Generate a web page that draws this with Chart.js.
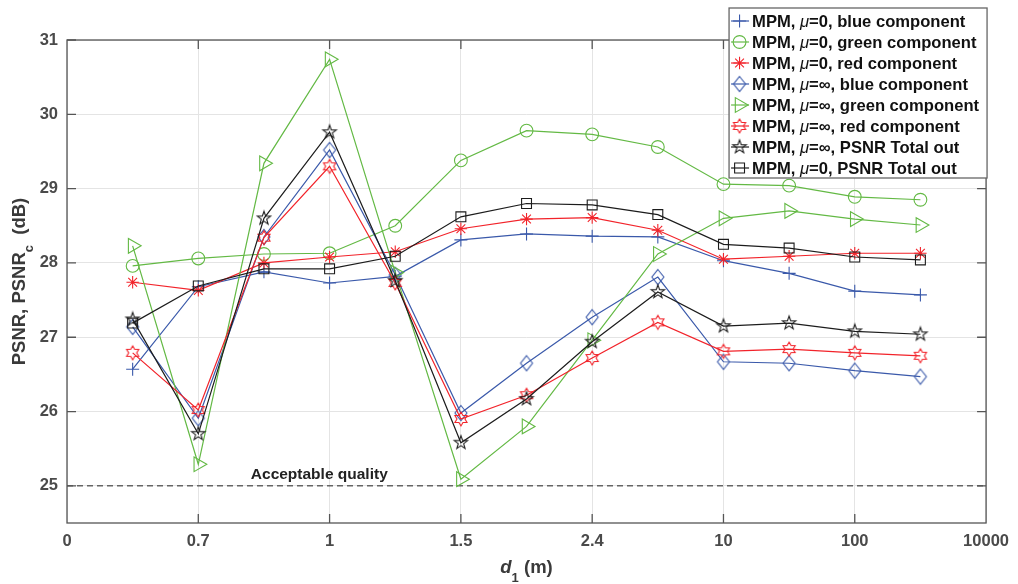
<!DOCTYPE html>
<html>
<head>
<meta charset="utf-8">
<script src="https://cdn.jsdelivr.net/npm/chart.js@4.4.0/dist/chart.umd.min.js"></script>
<style>
html,body{margin:0;padding:0;background:#fff;}
#wrap{width:1018px;height:584px;position:relative;}
</style>
</head>
<body>
<div id="wrap"><canvas id="c"></canvas></div>
<script>
// x axis: evenly spaced d1 values, measurements sit halfway between ticks too
const X_TICK_LABELS = ['0','0.7','1','1.5','2.4','10','100','10000'];
const X_POS = [0.5,1,1.5,2,2.5,3,3.5,4,4.5,5,5.5,6,6.5];
const Y_TICKS = [25,26,27,28,29,30,31];
const ACCEPTABLE = 25;

const blueMu0  = [26.57,27.68,27.88,27.73,27.82,28.31,28.39,28.36,28.35,28.03,27.86,27.62,27.57];
const greenMu0 = [27.96,28.06,28.12,28.13,28.50,29.38,29.78,29.73,29.56,29.06,29.04,28.89,28.85];
const redMu0   = [27.74,27.63,28.00,28.08,28.15,28.46,28.59,28.61,28.44,28.05,28.09,28.13,28.13];
const blueInf  = [27.14,25.91,28.35,29.52,27.84,25.98,26.65,27.27,27.81,26.67,26.65,26.55,26.47];
const greenInf = [28.23,25.29,29.34,30.74,27.87,25.09,25.80,26.96,28.12,28.60,28.70,28.59,28.51];
const redInf   = [26.79,26.02,28.34,29.30,27.73,25.90,26.22,26.72,27.20,26.81,26.84,26.79,26.75];
const totalInf = [27.24,25.70,28.60,29.76,27.76,25.58,26.17,26.94,27.61,27.15,27.19,27.08,27.04];
const totalMu0 = [27.19,27.69,27.92,27.92,28.09,28.62,28.80,28.78,28.65,28.25,28.20,28.08,28.04];

const LABELS = [
  'MPM, μ=0, blue component',
  'MPM, μ=0, green component',
  'MPM, μ=0, red component',
  'MPM, μ=∞, blue component',
  'MPM, μ=∞, green component',
  'MPM, μ=∞, red component',
  'MPM, μ=∞, PSNR Total out',
  'MPM, μ=0, PSNR Total out'
];

const BLUE = '#3a59aa', GREEN = '#63b944', RED = '#f2232a', BLACK = '#1c1c1c';
const GRID = '#e4e4e4', AXIS = '#555555', TICK_TXT = '#4a4a4a', TITLE_TXT = '#3a3a3a';
const FAMILY = '"Liberation Sans", Arial, Helvetica, sans-serif';

// hollow markers the built-in point styles don't cover
function makeMarker(color, draw) {
  const cv = document.createElement('canvas');
  cv.width = 18; cv.height = 18;
  const c = cv.getContext('2d');
  c.strokeStyle = color; c.lineWidth = 1.1;
  draw(c, 9, 9);
  c.stroke();
  return cv;
}
function starPath(c, cx, cy, n, ro, ri) {
  c.beginPath();
  for (let k = 0; k < 2 * n; k++) {
    const r = k % 2 ? ri : ro;
    const a = -Math.PI / 2 + k * Math.PI / n;
    c.lineTo(cx + r * Math.cos(a), cy + r * Math.sin(a));
  }
  c.closePath();
}
const diamond = makeMarker(BLUE, (c, cx, cy) => {
  c.beginPath();
  c.moveTo(cx, cy - 7.5); c.lineTo(cx + 6, cy); c.lineTo(cx, cy + 7.5); c.lineTo(cx - 6, cy);
  c.closePath();
});
const hexagram = makeMarker(RED, (c, cx, cy) => starPath(c, cx, cy, 6, 7, 4));
const pentagram = makeMarker(BLACK, (c, cx, cy) => starPath(c, cx, cy, 5, 7, 2.8));

const SERIES = [
  { data: blueMu0,  color: BLUE,  style: 'cross',    r: 6.5 },
  { data: greenMu0, color: GREEN, style: 'circle',   r: 6.4 },
  { data: redMu0,   color: RED,   style: 'star',     r: 6.2 },
  { data: blueInf,  color: BLUE,  style: diamond,    r: 7 },
  { data: greenInf, color: GREEN, style: 'triangle', r: 8.5, rot: 90 },
  { data: redInf,   color: RED,   style: hexagram,   r: 7 },
  { data: totalInf, color: BLACK, style: pentagram,  r: 7 },
  { data: totalMu0, color: BLACK, style: 'rect',     r: 7 }
];

const datasets = SERIES.map((s, i) => ({
  label: LABELS[i],
  data: X_POS.map((x, k) => ({ x, y: s.data[k] })),
  borderColor: s.color,
  borderWidth: 1.2,
  pointStyle: s.style,
  pointRadius: s.r,
  pointRotation: s.rot || 0,
  pointBorderColor: s.color,
  pointBackgroundColor: 'rgba(0,0,0,0)',
  pointBorderWidth: 1.1,
  tension: 0,
  order: 10 - i
}));

datasets.push({
  label: 'acceptable',
  data: [{ x: 0, y: ACCEPTABLE }, { x: X_TICK_LABELS.length - 1, y: ACCEPTABLE }],
  borderColor: '#222',
  borderWidth: 1,
  borderDash: [6, 4],
  pointRadius: 0,
  order: 50
});

const tickFont = { family: FAMILY, size: 16.5, weight: 'bold' };

function drawParts(ctx, parts, x0, y0) {
  let x = x0;
  parts.forEach(p => {
    ctx.font = p.font;
    ctx.fillText(p.text, x, y0 + (p.dy || 0));
    x += ctx.measureText(p.text).width;
  });
}
function partsWidth(ctx, parts) {
  return parts.reduce((w, p) => { ctx.font = p.font; return w + ctx.measureText(p.text).width; }, 0);
}

const decor = {
  id: 'decor',
  afterDatasetsDraw(chart) {
    const { ctx, scales: { x, y } } = chart;
    ctx.save();
    ctx.fillStyle = '#222';
    ctx.font = 'bold 15.5px ' + FAMILY;
    ctx.textBaseline = 'alphabetic';
    ctx.fillText('Acceptable quality', x.getPixelForValue(1.4), y.getPixelForValue(ACCEPTABLE) - 7);
    ctx.restore();
  },
  afterDraw(chart) {
    const { ctx, chartArea: a, scales: { x, y } } = chart;
    const TL = 9;
    ctx.save();

    // box and inward ticks on all four sides
    ctx.strokeStyle = AXIS; ctx.lineWidth = 1.3;
    ctx.strokeRect(a.left, a.top, a.right - a.left, a.bottom - a.top);
    ctx.beginPath();
    for (let i = 1; i < X_TICK_LABELS.length - 1; i++) {
      const px = x.getPixelForValue(i);
      ctx.moveTo(px, a.bottom); ctx.lineTo(px, a.bottom - TL);
      ctx.moveTo(px, a.top); ctx.lineTo(px, a.top + TL);
    }
    Y_TICKS.forEach(v => {
      const py = y.getPixelForValue(v);
      ctx.moveTo(a.left, py); ctx.lineTo(a.left + TL, py);
      ctx.moveTo(a.right, py); ctx.lineTo(a.right - TL, py);
    });
    ctx.stroke();

    // axis titles
    ctx.fillStyle = TITLE_TXT;
    ctx.textBaseline = 'alphabetic';
    const big = 'bold 18.5px ' + FAMILY, sub = 'bold 13px ' + FAMILY;
    const yParts = [
      { text: 'PSNR, PSNR', font: big },
      { text: 'c', font: sub, dy: 8 },
      { text: '  (dB)', font: big }
    ];
    ctx.save();
    ctx.translate(25, (a.top + a.bottom) / 2);
    ctx.rotate(-Math.PI / 2);
    drawParts(ctx, yParts, -partsWidth(ctx, yParts) / 2, 0);
    ctx.restore();

    const xParts = [
      { text: 'd', font: 'italic bold 18.5px ' + FAMILY },
      { text: '1', font: sub, dy: 9 },
      { text: ' (m)', font: big }
    ];
    drawParts(ctx, xParts, (a.left + a.right) / 2 - partsWidth(ctx, xParts) / 2, 573);

    // legend box in the top right corner
    const lw = 258, lh = 170, lx = a.right + 1 - lw, ly = 8;
    ctx.fillStyle = '#fff';
    ctx.fillRect(lx, ly, lw, lh);
    ctx.strokeStyle = '#666'; ctx.lineWidth = 1.3;
    ctx.strokeRect(lx, ly, lw, lh);
    SERIES.forEach((s, i) => {
      const cy = ly + 13 + i * 21;
      ctx.strokeStyle = s.color; ctx.fillStyle = 'rgba(0,0,0,0)'; ctx.lineWidth = 1.2;
      ctx.beginPath(); ctx.moveTo(lx + 2, cy); ctx.lineTo(lx + 20, cy); ctx.stroke();
      ctx.lineWidth = 1.1;
      Chart.helpers.drawPoint(ctx, { pointStyle: s.style, radius: s.r, rotation: s.rot || 0, borderWidth: 1.1 }, lx + 10.5, cy);
      const [pre, post] = LABELS[i].split('μ');
      ctx.fillStyle = '#111';
      drawParts(ctx, [
        { text: pre, font: 'bold 16.6px ' + FAMILY },
        { text: 'μ', font: 'italic 16.6px ' + FAMILY },
        { text: post, font: 'bold 16.6px ' + FAMILY }
      ], lx + 23, cy + 6);
    });
    ctx.restore();
  }
};

new Chart(document.getElementById('c'), {
  type: 'line',
  data: { datasets },
  options: {
    responsive: true,
    maintainAspectRatio: false,
    animation: false,
    layout: { padding: { top: 40, right: 28, left: 0, bottom: 0 } },
    plugins: { legend: { display: false }, tooltip: { enabled: false } },
    scales: {
      x: {
        type: 'linear', min: 0, max: X_TICK_LABELS.length - 1,
        afterFit: s => { s.height = 61; },
        afterBuildTicks: s => { s.ticks = X_TICK_LABELS.map((_, i) => ({ value: i })); },
        ticks: { callback: v => X_TICK_LABELS[v], font: tickFont, color: TICK_TXT, padding: 9, maxRotation: 0, autoSkip: false },
        grid: { color: GRID, drawTicks: false },
        border: { display: false }
      },
      y: {
        type: 'linear', min: 24.5, max: 31,
        afterFit: s => { s.width = 67; },
        afterBuildTicks: s => { s.ticks = Y_TICKS.map(v => ({ value: v })); },
        ticks: { font: tickFont, color: TICK_TXT, padding: 9 },
        grid: { color: GRID, drawTicks: false },
        border: { display: false }
      }
    }
  },
  plugins: [decor]
});
</script>
</body>
</html>
